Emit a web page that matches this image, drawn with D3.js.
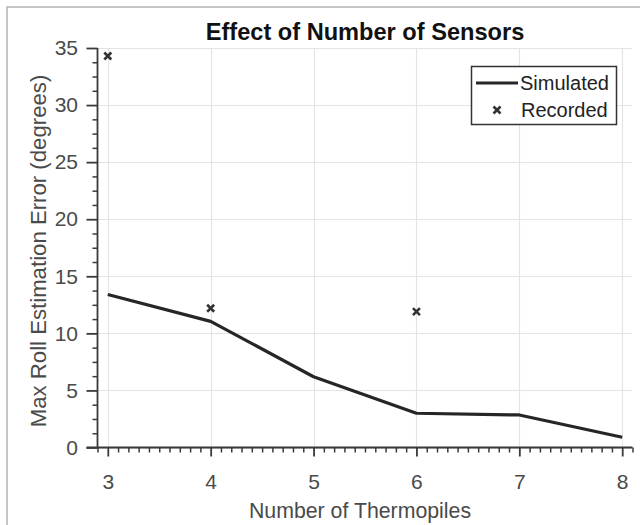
<!DOCTYPE html>
<html><head><meta charset="utf-8">
<script src="https://cdn.jsdelivr.net/npm/d3@7"></script>
<style>
html,body{margin:0;padding:0;background:#fff;}
svg{display:block;}
text{font-family:"Liberation Sans",Arial,Helvetica,sans-serif;}
</style></head>
<body>
<script>
const thermopiles = [3, 4, 5, 6, 7, 8];
const simulated = [13.4, 11.05, 6.2, 3.0, 2.85, 0.9];
const recordedX = [3, 4, 6];
const recordedY = [34.3, 12.2, 11.9];
const xTickValues = [3, 4, 5, 6, 7, 8];
const yTickValues = [0, 5, 10, 15, 20, 25, 30, 35];
const titleText = "Effect of Number of Sensors";
const xLabel = "Number of Thermopiles";
const yLabel = "Max Roll Estimation Error (degrees)";
const legendLabels = ["Simulated", "Recorded"];

const W = 640, H = 525;
const svg = d3.select("body").append("svg").attr("width", W).attr("height", H);

// outer frame (cropped figure border)
svg.append("path").attr("d", "M7,525 V7 H640").attr("fill", "none")
  .attr("stroke", "#b4b4b4").attr("stroke-width", 1.5);

const x = d3.scaleLinear().domain([2.9, 8.1]).range([97.5, 632.5]);
const y = d3.scaleLinear().domain([0, 35]).range([447.5, 48]);

const axisColor = "#3a3a3a", textColor = "#4a4a4a", gridColor = "#e4e4e4";
const fontFam = '"Liberation Sans",Arial,sans-serif';

// grid
const g = svg.append("g");
g.selectAll("line.vg").data(xTickValues).join("line")
  .attr("x1", d => Math.round(x(d)) + 0.5).attr("x2", d => Math.round(x(d)) + 0.5)
  .attr("y1", y(35)).attr("y2", y(0)).attr("stroke", gridColor).attr("stroke-width", 1.2);
g.selectAll("line.hg").data(yTickValues).join("line")
  .attr("y1", d => Math.round(y(d)) + 0.5).attr("y2", d => Math.round(y(d)) + 0.5)
  .attr("x1", x(2.9)).attr("x2", x(8.1)).attr("stroke", gridColor).attr("stroke-width", 1.2);

// minor ticks
const xMinor = d3.range(29, 82).map(v => v / 10).filter(v => Math.abs(v - Math.round(v)) > 1e-6);
const yMinor = d3.range(0, 36, 1.25).filter(v => v % 5 !== 0);

const xAxisG = svg.append("g").attr("transform", `translate(0,${y(0)})`);
xAxisG.call(d3.axisBottom(x).tickValues(xMinor).tickSize(5).tickFormat(""));
xAxisG.selectAll(".tick line").attr("stroke", axisColor).attr("stroke-width", 1.5);
const xMajorG = svg.append("g").attr("transform", `translate(0,${y(0)})`);
xMajorG.call(d3.axisBottom(x).tickValues(xTickValues).tickSize(9).tickSizeOuter(0).tickPadding(17.5).tickFormat(d3.format("d")));
xMajorG.select(".domain").remove();
xMajorG.selectAll(".tick line").attr("stroke", axisColor).attr("stroke-width", 1.8);
xMajorG.selectAll(".tick text").attr("fill", textColor).attr("font-size", 21).attr("font-family", fontFam);
xAxisG.select(".domain").attr("stroke", axisColor).attr("stroke-width", 1.8).attr("d", `M${x(2.9) - 11},0H${x(8.1)}`);

const yAxisG = svg.append("g").attr("transform", `translate(${x(2.9)},0)`);
yAxisG.call(d3.axisLeft(y).tickValues(yMinor).tickSize(5).tickFormat(""));
yAxisG.selectAll(".tick line").attr("stroke", axisColor).attr("stroke-width", 1.5);
yAxisG.select(".domain").attr("stroke", axisColor).attr("stroke-width", 1.8).attr("d", `M0,${y(0)}V${y(35)}`);
const yMajorG = svg.append("g").attr("transform", `translate(${x(2.9)},0)`);
yMajorG.call(d3.axisLeft(y).tickValues(yTickValues).tickSize(11).tickPadding(8.5).tickFormat(d3.format("d")));
yMajorG.select(".domain").remove();
yMajorG.selectAll(".tick line").attr("stroke", axisColor).attr("stroke-width", 1.8);
yMajorG.selectAll(".tick text").attr("fill", textColor).attr("font-size", 21).attr("font-family", fontFam);

// simulated line
svg.append("path").datum(thermopiles.map((t, i) => [t, simulated[i]]))
  .attr("d", d3.line().x(d => x(d[0])).y(d => y(d[1])))
  .attr("fill", "none").attr("stroke", "#262626").attr("stroke-width", 3.2).attr("stroke-linejoin", "round");

// recorded markers
const cross = (cx, cy, r) => `M${cx - r},${cy - r}L${cx + r},${cy + r}M${cx - r},${cy + r}L${cx + r},${cy - r}`;
svg.selectAll("path.rec").data(recordedX.map((t, i) => [t, recordedY[i]])).join("path")
  .attr("class", "rec").attr("d", d => cross(x(d[0]), y(d[1]), 3.5))
  .attr("stroke", "#333").attr("stroke-width", 2.6).attr("fill", "none");

// title
svg.append("text").attr("x", 365).attr("y", 39.5).attr("text-anchor", "middle")
  .attr("font-size", 23.6).attr("font-weight", "bold").attr("fill", "#111").text(titleText);
// x label
svg.append("text").attr("x", 360).attr("y", 518).attr("text-anchor", "middle")
  .attr("font-size", 21.3).attr("fill", textColor).text(xLabel);
// y label
svg.append("text").attr("transform", `translate(46,251) rotate(-90)`).attr("text-anchor", "middle")
  .attr("font-size", 22.2).attr("fill", textColor).text(yLabel);

// legend
const lg = svg.append("g");
lg.append("rect").attr("x", 471.5).attr("y", 66.5).attr("width", 145).attr("height", 58)
  .attr("fill", "#fff").attr("stroke", "#333").attr("stroke-width", 1.5);
lg.append("line").attr("x1", 476).attr("x2", 518).attr("y1", 83).attr("y2", 83)
  .attr("stroke", "#262626").attr("stroke-width", 3.2);
lg.append("text").attr("x", 520).attr("y", 90).attr("font-size", 20).attr("fill", "#222").text(legendLabels[0]);
lg.append("path").attr("d", cross(497, 110, 3.5)).attr("stroke", "#333").attr("stroke-width", 2.6);
lg.append("text").attr("x", 521).attr("y", 117).attr("font-size", 20).attr("fill", "#222").text(legendLabels[1]);
</script>
</body></html>
